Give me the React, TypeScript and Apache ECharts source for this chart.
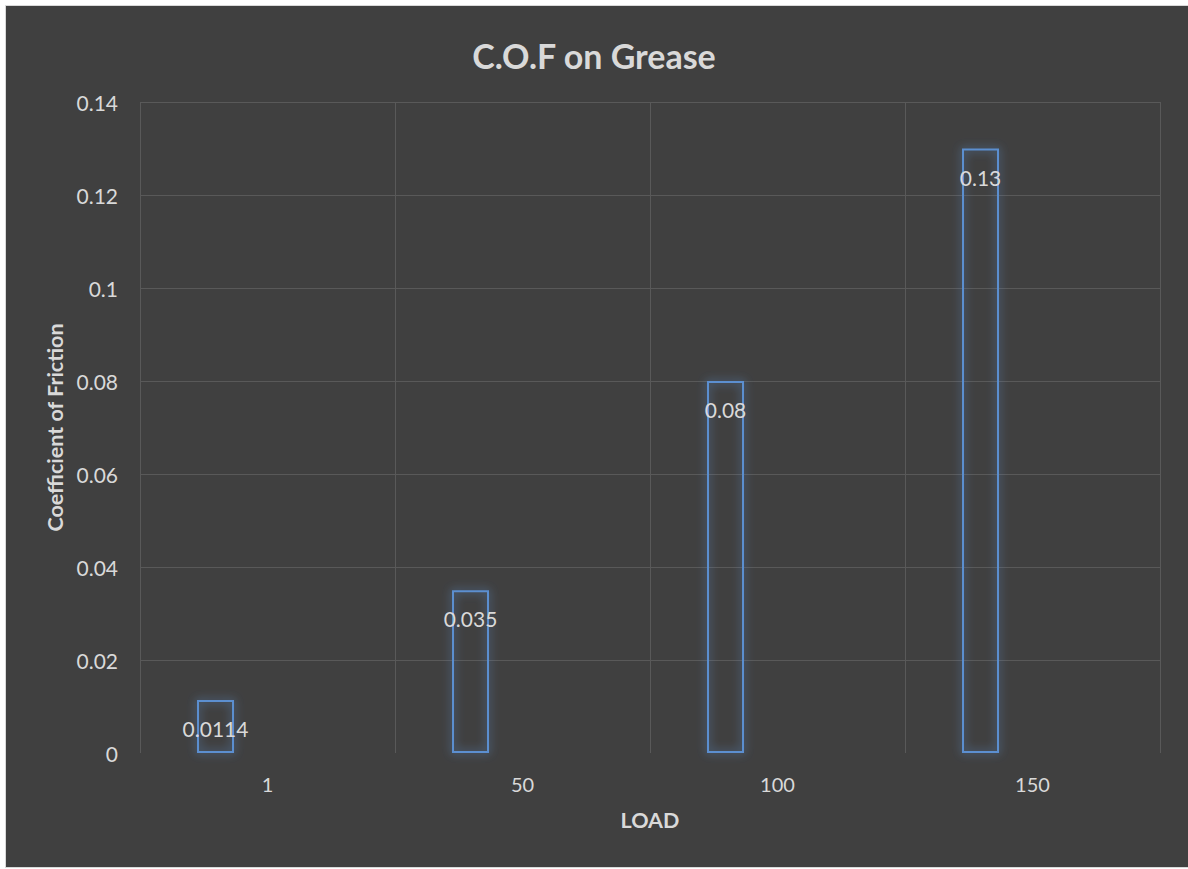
import React, { useEffect, useRef } from "react";
import * as echarts from "echarts";

const categories = ["1", "50", "100", "150"];
const cofValues = [0.0114, 0.035, 0.08, 0.13];
const yTicks = { min: 0, max: 0.14, interval: 0.02 };

export default function App() {
  const ref = useRef<HTMLDivElement>(null);
  useEffect(() => {
    if (!ref.current) return;
    const chart = echarts.init(ref.current, null, { renderer: "svg" });
    const font = "Lato, 'Open Sans', sans-serif";
    const gridColor = "#595959";
    const nLines = Math.round((yTicks.max - yTicks.min) / yTicks.interval) + 1;
    const yLineColors = Array.from({ length: nLines }, (_, i) => (i === 0 ? "rgba(0,0,0,0)" : gridColor));
    chart.setOption({
      animation: false,
      backgroundColor: "transparent",
      textStyle: { fontFamily: font },
      title: {
        text: "C.O.F on Grease",
        left: "center",
        top: 33,
        textStyle: { color: "#d9d9d9", fontSize: 34, fontWeight: "bold", fontFamily: font },
      },
      grid: { left: 140, right: 28, top: 102, bottom: 116 },
      xAxis: {
        type: "category",
        data: categories,
        name: "LOAD",
        nameLocation: "middle",
        nameGap: 56,
        nameTextStyle: { color: "#d9d9d9", fontSize: 21.5, fontWeight: "bold", fontFamily: font },
        axisLine: { show: false },
        axisTick: { show: false },
        axisLabel: { color: "#d9d9d9", fontSize: 20, margin: 21, fontFamily: font },
        splitLine: { show: true, lineStyle: { color: gridColor, width: 1 } },
      },
      yAxis: {
        type: "value",
        min: yTicks.min,
        max: yTicks.max,
        interval: yTicks.interval,
        name: "Coefficient of Friction",
        nameLocation: "middle",
        nameGap: 74,
        nameTextStyle: { color: "#d9d9d9", fontSize: 21.5, fontWeight: "bold", fontFamily: font },
        axisLine: { show: false },
        axisTick: { show: false },
        axisLabel: {
          color: "#d9d9d9",
          fontSize: 21,
          margin: 22,
          fontFamily: font,
          formatter: (v: number) => String(parseFloat(v.toFixed(4))),
        },
        splitLine: { show: true, lineStyle: { color: yLineColors, width: 1 } },
      },
      series: [
        {
          type: "bar",
          data: cofValues,
          barWidth: 37,
          barGap: "181%",
          itemStyle: {
            color: "rgba(0,0,0,0)",
            borderColor: "#5b8fd0",
            borderWidth: 2,
            shadowBlur: 10,
            shadowColor: "rgba(91,143,208,0.9)",
          },
          label: {
            show: true,
            position: "insideTop",
            distance: 18,
            color: "#d9d9d9",
            fontSize: 21,
            fontFamily: font,
          },
        },
        {
          type: "bar",
          data: categories.map(() => null),
          barWidth: 37,
          itemStyle: { color: "rgba(0,0,0,0)" },
        },
      ],
    });
    return () => chart.dispose();
  }, []);
  return (
    <div style={{ position: "fixed", left: 0, top: 0, width: 1188, height: 869, background: "#ffffff" }}>
      <div
        style={{
          position: "absolute",
          left: 5,
          top: 5,
          width: 1182,
          height: 861,
          background: "#404040",
          border: "1px solid #d9d9d9",
          borderRight: "none",
        }}
      />
      <div ref={ref} style={{ position: "absolute", left: 0, top: 0, width: 1188, height: 869 }} />
    </div>
  );
}
